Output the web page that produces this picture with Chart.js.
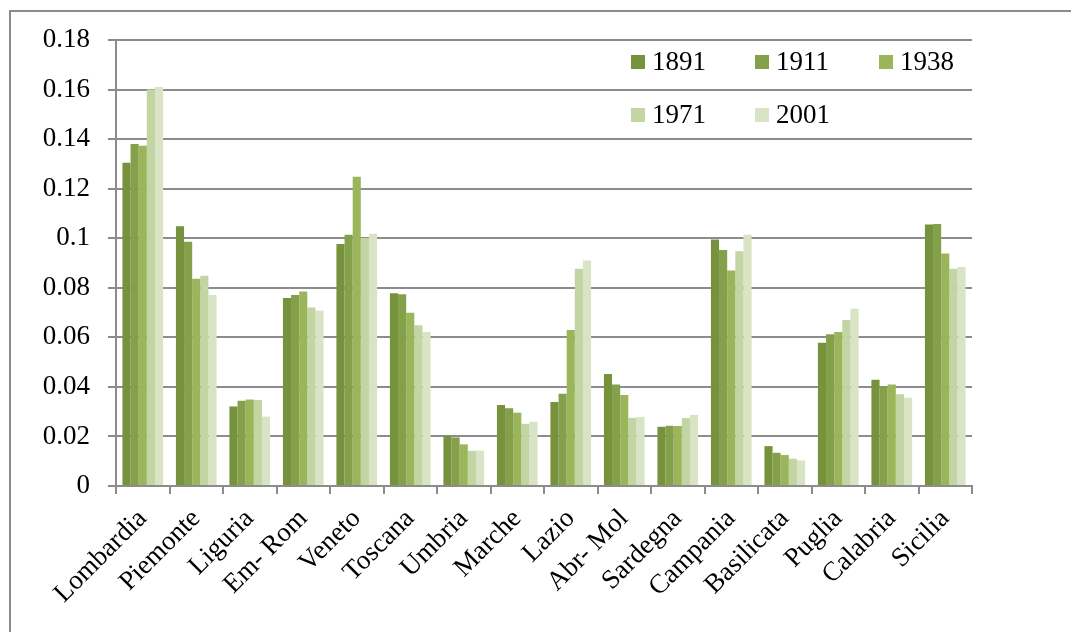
<!DOCTYPE html>
<html>
<head>
<meta charset="utf-8">
<script src="https://cdn.jsdelivr.net/npm/chart.js@4"></script>
<style>
    html, body { margin: 0; padding: 0; background: #fff; }
    #frame {
        position: absolute;
        left: 9px;
        top: 10px;
        width: 1070px;
        height: 640px;
        border-top: 2px solid #8c8c8c;
        border-left: 2px solid #8c8c8c;
    }
    #myChart { position: absolute; left: 0; top: 0; }
</style>
</head>
<body>
<div id="frame"></div>
<canvas id="myChart" width="1071" height="632"></canvas>
<script>
const regions = ['Lombardia', 'Piemonte', 'Liguria', 'Em- Rom', 'Veneto', 'Toscana', 'Umbria', 'Marche',
    'Lazio', 'Abr- Mol', 'Sardegna', 'Campania', 'Basilicata', 'Puglia', 'Calabria', 'Sicilia'];
const years = ['1891', '1911', '1938', '1971', '2001'];

const v1891 = [0.1305, 0.1048, 0.0321, 0.0759, 0.0977, 0.0778, 0.0202, 0.0327, 0.0339, 0.0452, 0.0239, 0.0995, 0.0161, 0.0578, 0.0429, 0.1055];
const v1911 = [0.1380, 0.0986, 0.0344, 0.0771, 0.1014, 0.0774, 0.0196, 0.0314, 0.0372, 0.0410, 0.0243, 0.0952, 0.0134, 0.0612, 0.0402, 0.1057];
const v1938 = [0.1373, 0.0836, 0.0349, 0.0785, 0.1248, 0.0699, 0.0168, 0.0296, 0.0630, 0.0367, 0.0242, 0.0870, 0.0125, 0.0622, 0.0410, 0.0938];
const v1971 = [0.1600, 0.0849, 0.0347, 0.0720, 0.1001, 0.0649, 0.0142, 0.0251, 0.0877, 0.0275, 0.0274, 0.0947, 0.0110, 0.0670, 0.0370, 0.0877];
const v2001 = [0.1610, 0.0771, 0.0280, 0.0708, 0.1018, 0.0622, 0.0143, 0.0259, 0.0910, 0.0279, 0.0287, 0.1014, 0.0103, 0.0715, 0.0356, 0.0884];

const colors = ['#76923c', '#85a04b', '#9bb65a', '#c3d5a2', '#d8e4c4'];
const series = [v1891, v1911, v1938, v1971, v2001];

const font = { family: '"Liberation Serif", serif', size: 27 };
const gridColor = '#8c8c8c';

// legend drawn inside the plot, two rows like the original
const insideLegend = {
    id: 'insideLegend',
    afterDraw(chart) {
        const c = chart.ctx;
        const area = chart.chartArea;
        c.save();
        c.font = '27px "Liberation Serif", serif';
        c.textBaseline = 'middle';
        chart.data.datasets.forEach((ds, i) => {
            let col = i % 3;
            let row = Math.floor(i / 3);
            let x = area.left + 515 + col * 124;
            let y = area.top + 22 + row * 53;
            c.fillStyle = ds.backgroundColor;
            c.fillRect(x, y - 7, 14, 14);
            c.fillStyle = '#000';
            c.fillText(ds.label, x + 21, y + 1);
        });
        c.restore();
    }
};

const ctx = document.querySelector('#myChart').getContext('2d');

let config = {
    type: 'bar',
    data: {
        labels: regions,
        datasets: series.map((data, i) => ({
            label: years[i],
            data: data,
            backgroundColor: colors[i],
            borderWidth: 0,
            categoryPercentage: 0.76,
            barPercentage: 1.0
        }))
    },
    options: {
        responsive: false,
        animation: false,
        layout: { padding: { top: 40, right: 99, bottom: 0, left: 0 } },
        plugins: {
            legend: { display: false },
            tooltip: { enabled: false }
        },
        scales: {
            x: {
                grid: {
                    drawOnChartArea: false,
                    drawTicks: true,
                    tickLength: 8,
                    color: gridColor,
                    lineWidth: 2
                },
                border: { color: gridColor, width: 2 },
                ticks: {
                    color: '#000',
                    font: font,
                    minRotation: 45,
                    maxRotation: 45,
                    autoSkip: false,
                    padding: 9
                },
                afterFit: (s) => { s.height = 146; }
            },
            y: {
                min: 0,
                max: 0.18,
                grid: {
                    color: gridColor,
                    lineWidth: 2,
                    tickLength: 8
                },
                border: { color: gridColor, width: 2 },
                ticks: {
                    stepSize: 0.02,
                    color: '#000',
                    font: font,
                    padding: 18,
                    callback: (v) => String(+v.toFixed(2))
                },
                afterFit: (s) => { s.width = 116; }
            }
        }
    },
    plugins: [insideLegend]
};

window.chart = new Chart(ctx, config);
</script>
</body>
</html>
